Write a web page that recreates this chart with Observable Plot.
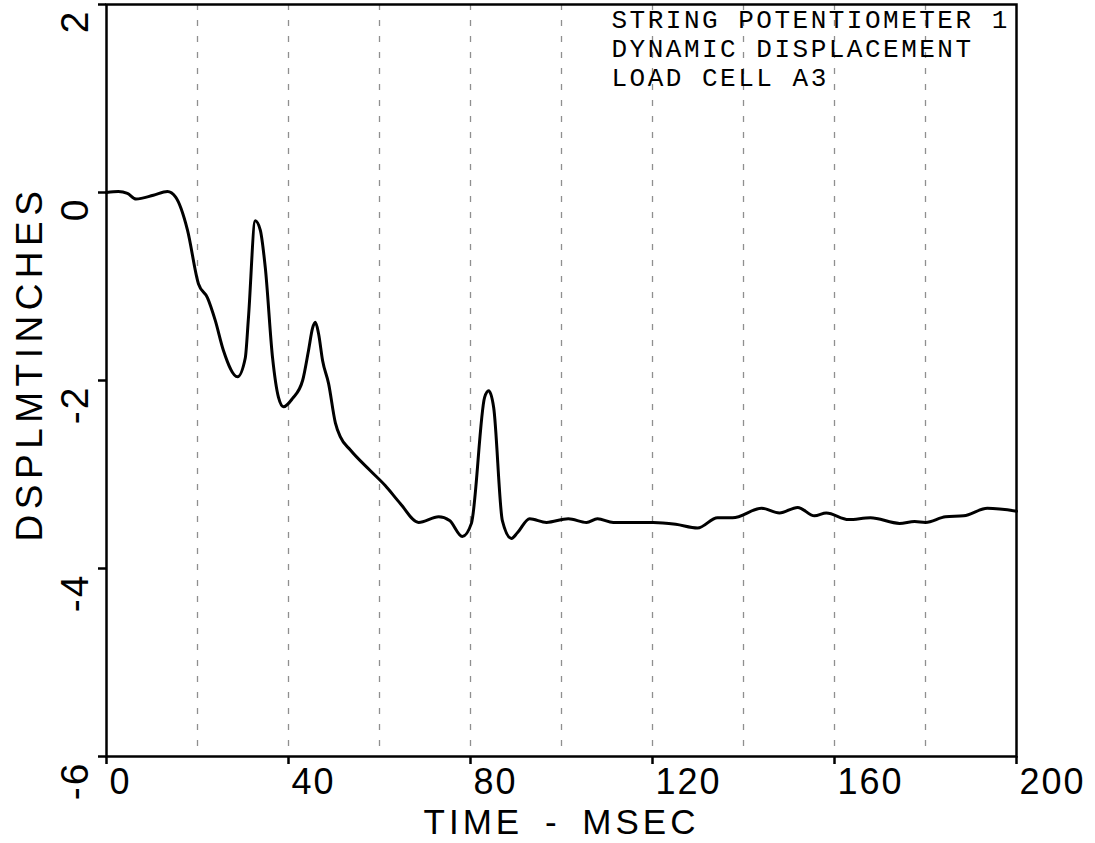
<!DOCTYPE html>
<html><head><meta charset="utf-8">
<script src="https://cdn.jsdelivr.net/npm/d3@7"></script>
<script src="https://cdn.jsdelivr.net/npm/@observablehq/plot@0.6"></script>
<style>
html,body{margin:0;padding:0;background:#fff;}
#chart svg{display:block;}
</style></head><body><div id="chart"></div>
<script>
const timeMs = [0,2.6,4.6,6.5,10.3,13.4,15.2,17.8,20.2,22.2,23.9,25.7,28.8,30.5,31.2,32.7,33.8,34.9,36.5,37.8,38.9,40.9,43.1,44.4,45.3,45.9,46.6,47.5,48.8,50.3,51.4,53.6,58.0,61.3,64.6,68.6,73.0,75.4,78.2,80.2,83.1,84.0,85.1,87.0,89.0,90.3,93.0,96.7,101.5,105.5,107.9,111.4,120.2,125.1,129.9,134.3,137.6,144.0,147.9,151.9,155.6,158.2,163.1,167.9,174.3,177.6,180.0,184.4,188.4,193.6,200];
const displacement = [0,0.01,-0.01,-0.07,-0.03,0.01,-0.05,-0.40,-0.97,-1.12,-1.36,-1.68,-1.96,-1.76,-1.33,-0.30,-0.40,-0.80,-1.76,-2.18,-2.28,-2.19,-2.00,-1.68,-1.44,-1.38,-1.50,-1.79,-2.03,-2.45,-2.60,-2.74,-2.96,-3.12,-3.31,-3.51,-3.45,-3.49,-3.66,-3.52,-2.18,-2.11,-2.29,-3.49,-3.68,-3.62,-3.47,-3.51,-3.47,-3.51,-3.47,-3.51,-3.51,-3.53,-3.57,-3.46,-3.46,-3.36,-3.41,-3.35,-3.44,-3.41,-3.48,-3.46,-3.52,-3.50,-3.51,-3.45,-3.44,-3.36,-3.39];
const xTicks = [0,40,80,120,160,200];
const yTicks = [2,0,-2,-4,-6];
const gridTimes = [20,40,60,80,100,120,140,160,180];
const xTitle = "TIME - MSEC";
const yTitle = "DSPLMTINCHES";
const noteLines = ["STRING POTENTIOMETER 1","DYNAMIC DISPLACEMENT","LOAD CELL A3"];

const data = timeMs.map((t, i) => ({t, v: displacement[i]}));
const sans = "Liberation Sans, Arial, sans-serif";

const plot = Plot.plot({
  width: 1095, height: 843,
  marginTop: 4, marginLeft: 106, marginRight: 79, marginBottom: 87,
  x: {domain: [0, 200]},
  y: {domain: [-6, 2]},
  style: {background: "#fff", color: "#000"},
  marks: [
    Plot.ruleX(gridTimes, {x: d => d, stroke: "#333", strokeOpacity: 0.55, strokeWidth: 1.3, strokeDasharray: "6,10"}),
    Plot.frame({stroke: "#000", strokeWidth: 2.5}),
    Plot.axisX({ticks: xTicks, tickSize: 8, tickFormat: () => "", label: null, strokeWidth: 2.5, stroke: "#000"}),
    Plot.axisY({ticks: yTicks, tickSize: 8, tickFormat: () => "", label: null, strokeWidth: 2.5, stroke: "#000"}),
    Plot.text(xTicks, {x: d => d, text: d => String(d), frameAnchor: "bottom", textAnchor: "start", lineAnchor: "bottom", dx: 3, dy: 37, fontSize: 36, fontFamily: sans, fill: "#000"}),
    Plot.text(yTicks, {y: d => d, text: d => String(d), frameAnchor: "left", rotate: -90, textAnchor: "end", lineAnchor: "bottom", dx: -19, dy: 5, fontSize: 39, fontFamily: sans, fill: "#000"}),
    Plot.text([yTitle], {text: d => d, frameAnchor: "left", rotate: -90, textAnchor: "middle", lineAnchor: "bottom", dx: -65, dy: -17, fontSize: 37, fontFamily: sans, fill: "#000"}),
    Plot.text([xTitle], {text: d => d, frameAnchor: "bottom", textAnchor: "middle", lineAnchor: "bottom", dy: 77, fontSize: 35, fontFamily: sans, fill: "#000"}),
    Plot.text([noteLines.join("\n")], {text: d => d, frameAnchor: "top-left", textAnchor: "start", lineAnchor: "top", lineHeight: 1.1, dx: 505, dy: 3.5, fontSize: 26, fontFamily: "Liberation Mono, Courier New, monospace", fill: "#000"}),
    Plot.line(data, {x: "t", y: "v", stroke: "#000", strokeWidth: 3, curve: "monotone-x"})
  ]
});
// letter spacing per text mark, in mark order
const spacing = ["2px", "2px", "5.5px", "4px", "2.5px"];
const wordSpacing = ["0px", "0px", "0px", "8px", "0px"];
plot.querySelectorAll('g[aria-label="text"]').forEach((g, i) => {
  if (i < spacing.length) {
    g.style.letterSpacing = spacing[i];
    g.style.wordSpacing = wordSpacing[i];
  }
});
document.getElementById("chart").appendChild(plot);
</script>
</body></html>
